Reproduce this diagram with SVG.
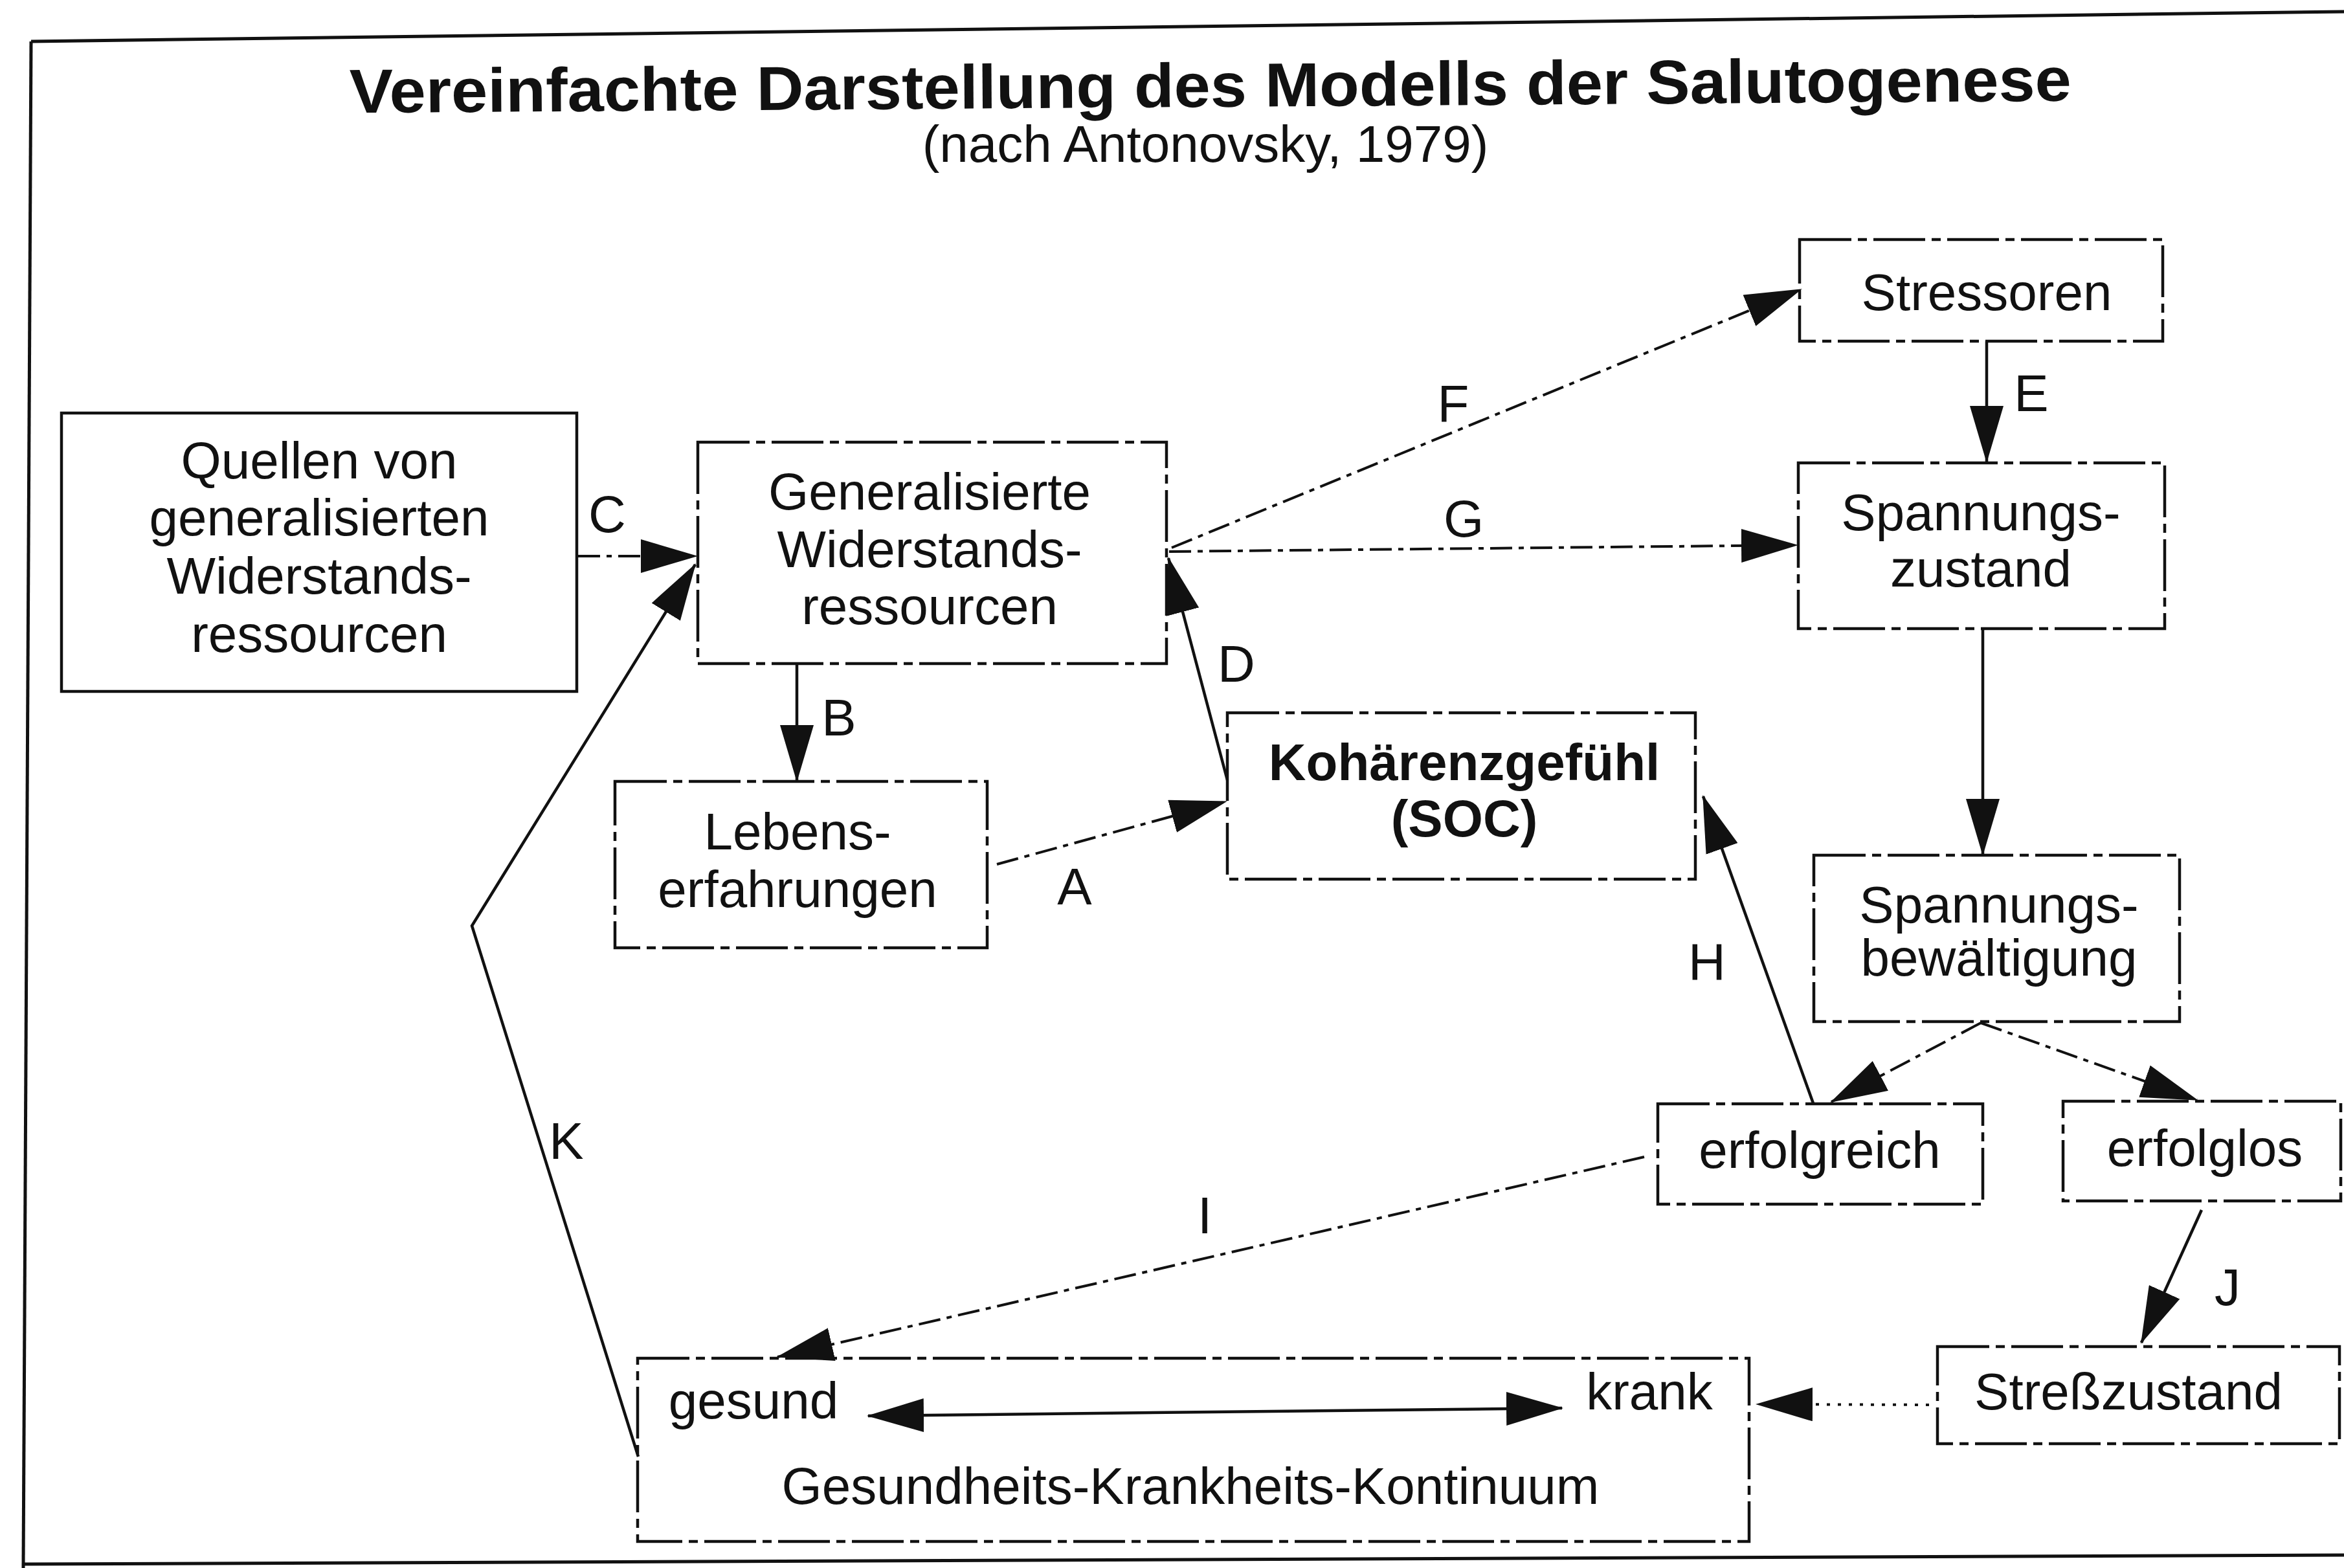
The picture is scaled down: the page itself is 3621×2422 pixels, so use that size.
<svg xmlns="http://www.w3.org/2000/svg" width="3621" height="2422" viewBox="0 0 3621 2422">
<style>
text{font-family:"Liberation Sans",Arial,sans-serif;fill:#111;}
.t{font-size:80px;text-anchor:middle;}
.tb{font-size:80px;text-anchor:middle;font-weight:bold;}
.lbl{font-size:80px;text-anchor:middle;}
.box{fill:none;stroke:#111;stroke-width:4.5;}
.bd{fill:none;stroke:#111;stroke-width:4.5;stroke-dasharray:80 10 14 10;}
.ln{fill:none;stroke:#111;stroke-width:4.5;}
.dl{fill:none;stroke:#111;stroke-width:4;stroke-dasharray:34 10 8 10;}
.dt{fill:none;stroke:#111;stroke-width:4;stroke-dasharray:5 12;}
.frame{fill:none;stroke:#111;stroke-width:5;}
</style>
<defs>
<marker id="ah" markerUnits="userSpaceOnUse" markerWidth="88" markerHeight="52" refX="86" refY="26" orient="auto-start-reverse">
<path d="M0,0 L88,26 L0,52 Z" fill="#111"/>
</marker>
</defs>
<rect width="3621" height="2422" fill="#fff"/>
<g id="frame">
<line class="frame" x1="48" y1="64" x2="3621" y2="18"/>
<line class="frame" x1="48" y1="64" x2="36" y2="2422"/>
<line class="frame" x1="36" y1="2416" x2="3621" y2="2402"/>
</g>
<g id="title">
<text x="1870" y="165" font-size="96" font-weight="bold" text-anchor="middle" textLength="2660" lengthAdjust="spacingAndGlyphs" transform="rotate(-0.4 1870 165)">Vereinfachte Darstellung des Modells der Salutogenese</text>
<text x="1862" y="250" font-size="80" text-anchor="middle">(nach Antonovsky, 1979)</text>
</g>
<g id="node-quellen">
<rect class="box" x="95" y="638" width="796" height="430"/>
<text class="t" x="493" y="739">Quellen von</text>
<text class="t" x="493" y="827">generalisierten</text>
<text class="t" x="493" y="917">Widerstands-</text>
<text class="t" x="493" y="1007">ressourcen</text>
</g>
<g id="node-grr">
<rect class="bd" x="1078" y="683" width="724" height="342"/>
<text class="t" x="1436" y="787">Generalisierte</text>
<text class="t" x="1436" y="876">Widerstands-</text>
<text class="t" x="1436" y="964">ressourcen</text>
</g>
<g id="node-lebens">
<rect class="bd" x="950" y="1207" width="575" height="257"/>
<text class="t" x="1232" y="1312">Lebens-</text>
<text class="t" x="1232" y="1401">erfahrungen</text>
</g>
<g id="node-soc">
<rect class="bd" x="1896" y="1101" width="723" height="257"/>
<text class="tb" x="2262" y="1205">Kohärenzgefühl</text>
<text class="tb" x="2262" y="1292">(SOC)</text>
</g>
<g id="node-stressoren">
<rect class="bd" x="2780" y="370" width="561" height="157"/>
<text class="t" x="3069" y="479">Stressoren</text>
</g>
<g id="node-spannungszustand">
<rect class="bd" x="2778" y="715" width="566" height="256"/>
<text class="t" x="3060" y="819">Spannungs-</text>
<text class="t" x="3060" y="906">zustand</text>
</g>
<g id="node-bewaeltigung">
<rect class="bd" x="2802" y="1321" width="565" height="257"/>
<text class="t" x="3088" y="1425">Spannungs-</text>
<text class="t" x="3088" y="1507">bewältigung</text>
</g>
<g id="node-erfolgreich">
<rect class="bd" x="2561" y="1705" width="502" height="155"/>
<text class="t" x="2811" y="1804">erfolgreich</text>
</g>
<g id="node-erfolglos">
<rect class="bd" x="3187" y="1701" width="429" height="154"/>
<text class="t" x="3406" y="1801">erfolglos</text>
</g>
<g id="node-stresszustand">
<rect class="bd" x="2993" y="2080" width="621" height="150"/>
<text class="t" x="3288" y="2177">Streßzustand</text>
</g>
<g id="node-kontinuum">
<rect class="bd" x="985" y="2098" width="1717" height="283"/>
<text class="t" x="1164" y="2191">gesund</text>
<text class="t" x="2548" y="2177">krank</text>
<text class="t" x="1839" y="2323">Gesundheits-Krankheits-Kontinuum</text>
</g>
<g id="connectors">
<line class="dl" x1="893" y1="859" x2="1076" y2="859" marker-end="url(#ah)"/>
<line class="ln" x1="1231" y1="1025" x2="1231" y2="1206" marker-end="url(#ah)"/>
<line class="dl" x1="1540" y1="1335" x2="1894" y2="1238" marker-end="url(#ah)"/>
<line class="ln" x1="1896" y1="1205" x2="1805" y2="862" marker-end="url(#ah)"/>
<line class="dl" x1="1810" y1="846" x2="2782" y2="447" marker-end="url(#ah)"/>
<line class="dl" x1="1806" y1="852" x2="2776" y2="842" marker-end="url(#ah)"/>
<line class="ln" x1="3069" y1="527" x2="3069" y2="713" marker-end="url(#ah)"/>
<line class="ln" x1="3063" y1="971" x2="3063" y2="1320" marker-end="url(#ah)"/>
<line class="dl" x1="3060" y1="1580" x2="2829" y2="1702" marker-end="url(#ah)"/>
<line class="dl" x1="3060" y1="1580" x2="3394" y2="1699" marker-end="url(#ah)"/>
<line class="ln" x1="2801" y1="1704" x2="2631" y2="1230" marker-end="url(#ah)"/>
<line class="dl" x1="2540" y1="1787" x2="1201" y2="2096" marker-end="url(#ah)"/>
<line class="ln" x1="3401" y1="1869" x2="3308" y2="2074" marker-end="url(#ah)"/>
<polyline class="ln" points="986,2250 729,1430 1074,872" marker-end="url(#ah)"/>
<line class="ln" x1="1341" y1="2187" x2="2413" y2="2175" marker-start="url(#ah)" marker-end="url(#ah)"/>
<line class="dt" x1="2980" y1="2170" x2="2714" y2="2169" marker-end="url(#ah)"/>
<text class="lbl" x="938" y="822">C</text>
<text class="lbl" x="1296" y="1136">B</text>
<text class="lbl" x="1660" y="1397">A</text>
<text class="lbl" x="1910" y="1053">D</text>
<text class="lbl" x="2245" y="651">F</text>
<text class="lbl" x="2261" y="829">G</text>
<text class="lbl" x="3138" y="635">E</text>
<text class="lbl" x="2637" y="1513">H</text>
<text class="lbl" x="1861" y="1905">I</text>
<text class="lbl" x="3441" y="2016">J</text>
<text class="lbl" x="875" y="1790">K</text>
</g>
</svg>
